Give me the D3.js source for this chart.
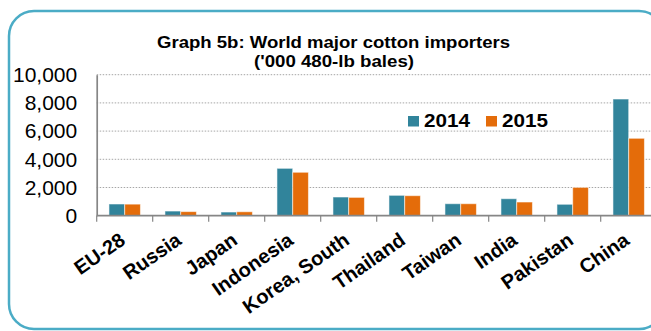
<!DOCTYPE html>
<html>
<head>
<meta charset="utf-8">
<script src="https://cdn.jsdelivr.net/npm/d3@7"></script>
<style>
  html, body { margin: 0; padding: 0; background: #fff; }
  svg { display: block; font-family: "Liberation Sans", Arial, sans-serif; }
</style>
</head>
<body>
<svg id="chart" width="651" height="331"></svg>
<script>
// Major cotton importers, thousand 480-lb bales
const countries = ["EU-28", "Russia", "Japan", "Indonesia", "Korea, South",
                   "Thailand", "Taiwan", "India", "Pakistan", "China"];
const years = ["2014", "2015"];
const imports2014 = [830, 330, 260, 3360, 1325, 1445, 850, 1205, 810, 8275];
const imports2015 = [820, 290, 280, 3080, 1300, 1420, 850, 970, 2010, 5490];
const yTicks = [0, 2000, 4000, 6000, 8000, 10000];
const titleLines = ["Graph 5b: World major cotton importers", "('000 480-lb bales)"];

const colors = { "2014": "#31849B", "2015": "#E46C0A" };
const seriesValues = { "2014": imports2014, "2015": imports2015 };

const svg = d3.select("#chart");

// frame
svg.append("rect")
  .attr("x", 9).attr("y", 11)
  .attr("width", 655).attr("height", 318)
  .attr("rx", 25).attr("ry", 25)
  .attr("fill", "#fff")
  .attr("stroke", "#4BACC6")
  .attr("stroke-width", 2.5);

const plot = { left: 96.7, right: 656.7, top: 74.7, bottom: 215.7 };

const x0 = d3.scaleBand().domain(countries).range([plot.left, plot.right]).padding(0);
const x1 = d3.scaleBand().domain(years).range([0, x0.bandwidth()])
  .paddingInner(0).paddingOuter(0.78);
const y = d3.scaleLinear().domain([0, 10000]).range([plot.bottom, plot.top]);

// dotted gridlines
svg.append("g")
  .selectAll("line")
  .data(yTicks.filter(d => d > 0))
  .join("line")
  .attr("x1", plot.left).attr("x2", plot.right)
  .attr("y1", d => y(d)).attr("y2", d => y(d))
  .attr("stroke", "#a6a6a6")
  .attr("stroke-width", 1)
  .attr("stroke-dasharray", "1.5,1.5");

// bars
const groups = svg.append("g")
  .selectAll("g")
  .data(countries)
  .join("g")
  .attr("transform", d => `translate(${x0(d)},0)`);

groups.selectAll("rect")
  .data((c, i) => years.map(yr => ({ year: yr, value: seriesValues[yr][i] })))
  .join("rect")
  .attr("x", d => x1(d.year))
  .attr("width", x1.bandwidth())
  .attr("y", d => y(d.value))
  .attr("height", d => y(0) - y(d.value))
  .attr("fill", d => colors[d.year])
  .attr("stroke", "rgba(255,255,255,0.55)")
  .attr("stroke-width", 1);

// y axis
const yAxis = svg.append("g")
  .attr("transform", `translate(${plot.left},0)`)
  .call(d3.axisLeft(y).tickValues(yTicks).tickFormat(d3.format(",")).tickSize(0).tickPadding(19.5));
yAxis.select(".domain").attr("stroke", "#868686").attr("stroke-width", 1.7);
yAxis.selectAll("text")
  .attr("font-size", 21)
  .attr("fill", "#000")
  .attr("font-family", "Liberation Sans, Arial, sans-serif");

// x axis with tick marks at category boundaries
const xAxisG = svg.append("g");
xAxisG.append("line")
  .attr("x1", plot.left).attr("x2", plot.right)
  .attr("y1", y(0)).attr("y2", y(0))
  .attr("stroke", "#868686").attr("stroke-width", 1.7);
xAxisG.selectAll("line.tick")
  .data(countries.map(c => x0(c)).concat([x0(countries[countries.length - 1]) + x0.bandwidth()]))
  .join("line")
  .attr("class", "tick")
  .attr("x1", d => d).attr("x2", d => d)
  .attr("y1", y(0)).attr("y2", y(0) + 6)
  .attr("stroke", "#868686").attr("stroke-width", 1.2);

// rotated category labels
svg.append("g")
  .selectAll("text")
  .data(countries)
  .join("text")
  .attr("transform", d => `translate(${x0(d) + x0.bandwidth() / 2 + 2},243) rotate(-35)`)
  .attr("text-anchor", "end")
  .attr("font-size", 20)
  .attr("font-weight", "bold")
  .attr("fill", "#000")
  .text(d => d);

// title
svg.append("text")
  .attr("x", 333.5).attr("y", 48.3)
  .attr("text-anchor", "middle")
  .attr("font-size", 16)
  .attr("font-weight", "bold")
  .attr("textLength", 353)
  .attr("lengthAdjust", "spacingAndGlyphs")
  .text(titleLines[0]);
svg.append("text")
  .attr("x", 334).attr("y", 66.5)
  .attr("text-anchor", "middle")
  .attr("font-size", 16)
  .attr("font-weight", "bold")
  .attr("textLength", 160)
  .attr("lengthAdjust", "spacingAndGlyphs")
  .text(titleLines[1]);

// legend
const legend = svg.append("g")
  .selectAll("g")
  .data(years)
  .join("g")
  .attr("transform", (d, i) => `translate(${408 + i * 78},116)`);
legend.append("rect")
  .attr("width", 11).attr("height", 10.5)
  .attr("fill", d => colors[d]);
legend.append("text")
  .attr("x", 16).attr("y", 10.7)
  .attr("font-size", 19)
  .attr("font-weight", "bold")
  .attr("textLength", 46)
  .attr("lengthAdjust", "spacingAndGlyphs")
  .text(d => d);
</script>
</body>
</html>
